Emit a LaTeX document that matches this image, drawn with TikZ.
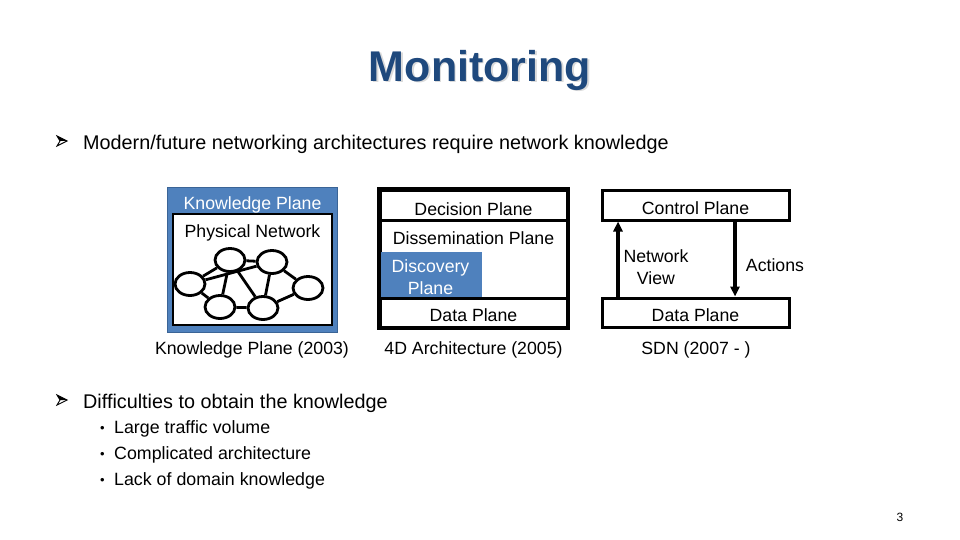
\documentclass[tikz,border=0pt]{standalone}
\usepackage{fontspec}
\setmainfont{Liberation Sans}
\usetikzlibrary{shapes.geometric,arrows.meta}
\definecolor{titleblue}{HTML}{1F497D}
\definecolor{kpblue}{HTML}{4F81BD}
\definecolor{kpedge}{HTML}{3A6496}
\definecolor{shadowgray}{HTML}{DADADA}
\begin{document}
\begin{tikzpicture}[x=1pt,y=-1pt,
  lbl/.style={font=\fontsize{17.7}{20}\selectfont, inner sep=0pt, align=center},
  bigtxt/.style={font=\fontsize{19.8}{22}\selectfont, inner sep=0pt, anchor=west},
  subtxt/.style={font=\fontsize{17.8}{20}\selectfont, inner sep=0pt, anchor=west},
  blackbox/.style={draw=black, line width=3pt, fill=white, inner sep=0pt},
  net/.style={draw=black, line width=2.8pt, ellipse, minimum width=30pt, minimum height=23pt, inner sep=0pt},
  netedge/.style={line width=2.8pt},
  flow/.style={line width=3.2pt, -{Triangle[length=10pt,width=9pt]}},
  arrowbullet/.pic={
    \fill[black] (0,-5) -- (10,0) -- (3,0) -- cycle;
    \draw[black, line width=0.9pt, line join=miter] (0,-5) -- (10,0) -- (0,5) -- (3,0) -- cycle;
  }
]
\useasboundingbox (0,0) rectangle (960,540);

% title
\node[text=shadowgray, font=\bfseries\fontsize{43}{46}\selectfont, inner sep=0pt] (titleshadow) at (481.5,71.5) {Monitoring};
\node[text=titleblue, font=\bfseries\fontsize{43}{46}\selectfont, inner sep=0pt] (title) at (480,70) {Monitoring};

% first bullet
\pic at (57,141) {arrowbullet};
\node[bigtxt] (b1) at (83,144) {Modern/future networking architectures require network knowledge};

% ---------- Knowledge plane ----------
\node[draw=kpedge, fill=kpblue, line width=1pt, minimum width=170pt, minimum height=145pt, inner sep=0pt] (kp) at (252,259.5) {};
\node[lbl, text=white] (kphead) at (252.5,205) {Knowledge Plane};
\node[blackbox, line width=2.6pt, minimum width=159pt, minimum height=111pt] (phys) at (252.5,269.5) {};
\node[lbl] (physlbl) at (252.5,233) {Physical Network};

\node[net] (na) at (230,260) {};
\node[net] (nb) at (272,262) {};
\node[net] (nc) at (190,284) {};
\node[net] (nd) at (308,288) {};
\node[net] (ne) at (220,307) {};
\node[net] (nf) at (263,308) {};
\draw[netedge] (na) -- (nb);
\draw[netedge] (nc) -- (na);
\draw[netedge] (nc) -- (nb);
\draw[netedge] (nc) -- (ne);
\draw[netedge] (na) -- (ne);
\draw[netedge] (na) -- (nf);
\draw[netedge] (nb) -- (nf);
\draw[netedge] (nb) -- (nd);
\draw[netedge] (ne) -- (nf);
\draw[netedge] (nf) -- (nd);

\node[lbl] (kpcap) at (252,350) {Knowledge Plane (2003)};

% ---------- 4D architecture ----------
\node[blackbox, minimum width=187pt, minimum height=137pt] (fourd) at (473.5,258.5) {};
\node[fill=kpblue, minimum width=101pt, minimum height=46pt, inner sep=0pt] (disc) at (431.5,275) {};
\draw[line width=3pt] (fourd.north west) rectangle (fourd.south east);
\draw[line width=3pt] (380,220) -- (567,220);
\draw[line width=3pt] (380,298) -- (567,298);
\node[lbl] (decision) at (473.5,209) {Decision Plane};
\node[lbl] (dissem) at (473.5,238) {Dissemination Plane};
\node[lbl, text=white, font=\fontsize{17.7}{22}\selectfont] (disclbl) at (430.5,277) {Discovery\\Plane};
\node[lbl] (data4d) at (473.5,315) {Data Plane};
\node[lbl] (fourdcap) at (473.5,350) {4D Architecture (2005)};

% ---------- SDN ----------
\node[blackbox, minimum width=187pt, minimum height=30pt] (cp) at (695.5,205) {};
\node[lbl] (cplbl) at (695.5,208) {Control Plane};
\node[blackbox, minimum width=187pt, minimum height=29pt] (dp) at (695.5,312.5) {};
\node[lbl] (dplbl) at (695.5,315) {Data Plane};
\coordinate (upx) at (618,0);
\coordinate (downx) at (735,0);
\draw[flow] (dp.north -| upx) -- (cp.south -| upx);
\draw[flow] (cp.south -| downx) -- (dp.north -| downx);
\node[lbl, font=\fontsize{17.7}{22}\selectfont] (nview) at (656,267) {Network\\View};
\node[lbl] (actions) at (775,265) {Actions};
\node[lbl] (sdncap) at (696,350) {SDN (2007 - )};

% second bullet
\pic at (57,400) {arrowbullet};
\node[bigtxt] (b2) at (83,403) {Difficulties to obtain the knowledge};
\foreach \y/\t in {429/Large traffic volume,455/Complicated architecture,481/Lack of domain knowledge}{
  \node[subtxt, font=\fontsize{13}{16}\selectfont] at (100,\y) {•};
  \node[subtxt] at (114,\y) {\t};
}

\node[font=\fontsize{12}{14}\selectfont, inner sep=0pt] (pg) at (900,517) {3};
\end{tikzpicture}
\end{document}
